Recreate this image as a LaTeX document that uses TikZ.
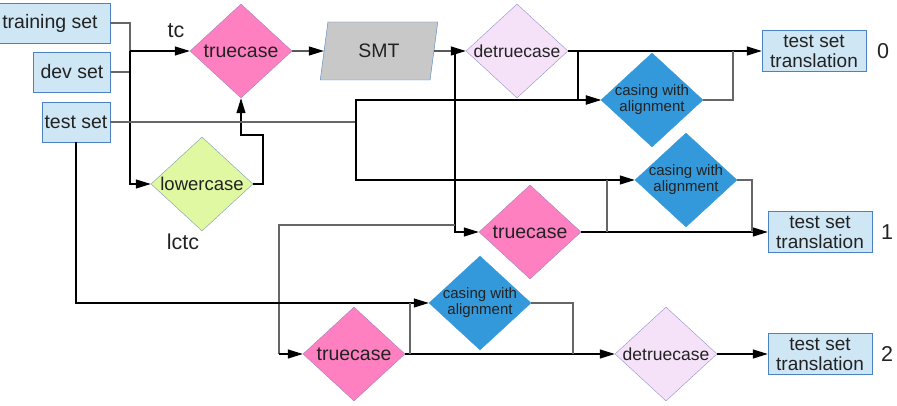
\documentclass[tikz,border=0pt]{standalone}
\usepackage{fontspec}
\setmainfont{Liberation Sans}
\usetikzlibrary{positioning,arrows.meta,shapes.geometric}
\definecolor{setfill}{HTML}{CFE7F5}
\definecolor{setedge}{HTML}{4A82C4}
\definecolor{tcfill}{HTML}{FF80C0}
\definecolor{tcedge}{HTML}{A080C0}
\definecolor{dtfill}{HTML}{F5E2F8}
\definecolor{dtedge}{HTML}{9090CC}
\definecolor{cwfill}{HTML}{3399DB}
\definecolor{lcfill}{HTML}{E0F8A2}
\definecolor{lcedge}{HTML}{7A9CB0}
\definecolor{smtfill}{HTML}{C8C8C8}
\definecolor{ink}{HTML}{222222}
\begin{document}
\begin{tikzpicture}[
    x=1pt, y=-1pt,
    font=\fontsize{19.5}{20}\selectfont, text=ink,
    setbox/.style={draw=setedge, fill=setfill, align=center, minimum height=40pt, inner sep=2pt},
    outbox/.style={setbox, minimum width=104pt, minimum height=41pt, font=\fontsize{19}{20}\selectfont},
    dia/.style={diamond, aspect=1.085, inner sep=-2pt, minimum width=102pt, minimum height=94pt, align=center},
    tcase/.style={dia, draw=tcedge, fill=tcfill},
    dtcase/.style={dia, draw=dtedge, fill=dtfill, font=\fontsize{17.5}{18}\selectfont},
    casing/.style={dia, draw=cwfill, fill=cwfill, font=\fontsize{15}{16}\selectfont},
    tag/.style={font=\fontsize{21.5}{22}\selectfont},
    line/.style={-{Triangle[length=15pt,width=9pt]}, line width=1.1pt},
    wire/.style={draw=black!60, line width=1.1pt}
]
\useasboundingbox (0,0) rectangle (897,406);
\node[setbox, minimum width=120pt] (train) at (50,23) {training set};
\node[setbox, minimum width=77pt] (dev) at (72,72) {dev set};
\node[setbox, minimum width=68pt] (test) at (76,122) {test set};
\node[tcase] (tc1) at (241,51) {truecase};
\node[dia, draw=lcedge, fill=lcfill, font=\fontsize{18.5}{19}\selectfont] (low) at (202,184) {lowercase};
\node[trapezium, trapezium left angle=80, trapezium right angle=100, trapezium stretches=true,
      draw=setedge, fill=smtfill, minimum width=118pt, minimum height=58pt] (smt) at (379,51) {SMT};
\node[dtcase] (dt1) at (517,51) {detruecase};
\node[casing] (cwa1) at (652,100) {casing with\\ alignment};
\node[casing] (cwa2) at (686,180) {casing with\\ alignment};
\node[tcase] (tc2) at (530,232) {truecase};
\node[casing] (cwa3) at (480,303) {casing with\\ alignment};
\node[tcase] (tc3) at (354,354) {truecase};
\node[dtcase] (dt3) at (666,354) {detruecase};
\node[outbox] (out0) at (814,51) {test set\\ translation};
\node[outbox] (out1) at (820,232) {test set\\ translation};
\node[outbox] (out2) at (820,354) {test set\\ translation};
\node[tag] (tc) at (176,31) {tc};
\node[tag] (lctc) at (183,242) {lctc};
\node[tag] (num0) at (883,51) {0};
\node[tag] (num1) at (887,232) {1};
\node[tag] (num2) at (887,354) {2};

\coordinate (split) at (130,51);
\coordinate (lcup) at (263,135);
\coordinate (smtsplit) at (455,51);
\coordinate (tdrop) at (455,225);
\coordinate (tc3in) at (279,354);
\coordinate (tsplit) at (356,122);
\coordinate (dt1split) at (578,51);
\coordinate (out0join) at (733,51);
\coordinate (tc2split) at (607,232);
\coordinate (out1join) at (752,232);
\coordinate (tc3split) at (410,354);
\coordinate (dt3join) at (573,354);

\draw[wire] (train.east) -| (split);
\draw[wire] (dev.east) -- (dev.east -| split);
\draw[line] (split) -- (tc1.west);
\draw[line] (split) |- (low.west);
\draw[line] (low.east) -| (lcup) -| (tc1.south);
\draw[line] (tc1.east) -- (smt.west);
\draw[line] (smt.east) -- (dt1.west);
\draw[line] (smtsplit) |- (tc2.west);
\draw[wire] (tdrop) -| (tc3in);
\draw[line] (tc3in) -- (tc3.west);
\draw[line] (dt1.east) -- (out0.west);
\draw[line] (dt1split) |- (cwa1.west);
\draw[wire] (cwa1.east) -| (out0join);
\draw[wire] (test.east) -- (tsplit);
\draw[line] (tsplit) |- (cwa1.west);
\draw[line] (tsplit) |- (cwa2.west);
\draw[line] (tc2.east) -- (out1.west);
\draw[wire] (tc2split) -- (tc2split |- cwa2.west);
\draw[wire] (cwa2.east) -| (out1join);
\draw[line] (test.south) |- (cwa3.west);
\draw[line] (tc3.east) -- (dt3.west);
\draw[wire] (tc3split) -- (tc3split |- cwa3.west);
\draw[wire] (cwa3.east) -| (dt3join);
\draw[line] (dt3.east) -- (out2.west);
\end{tikzpicture}
\end{document}
